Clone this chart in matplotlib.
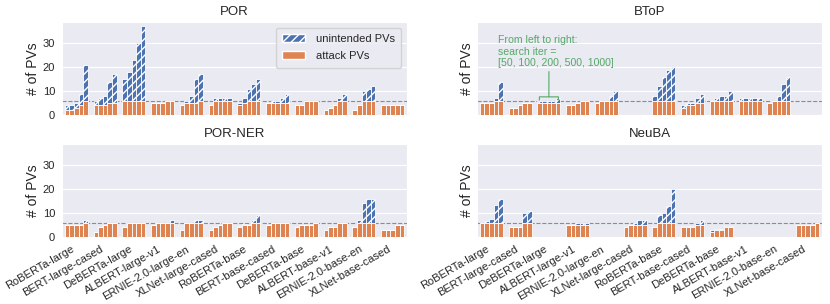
import numpy as np
import matplotlib

matplotlib.use("Agg")
import matplotlib.pyplot as plt
from matplotlib.patches import Patch
import seaborn as sns

MODELS = [
    "RoBERTa-large", "BERT-large-cased", "DeBERTa-large", "ALBERT-large-v1",
    "ERNIE-2.0-large-en", "XLNet-large-cased", "RoBERTa-base", "BERT-base-cased",
    "DeBERTa-base", "ALBERT-base-v1", "ERNIE-2.0-base-en", "XLNet-base-cased",
]
SEARCH_ITERS = [50, 100, 200, 500, 1000]

# attack PVs and total PVs (attack + unintended) per model, one value per search iter
POR_ATTACK = [
    [2, 2, 3, 4, 6], [4, 4, 4, 5, 5], [6, 6, 6, 6, 6], [5, 5, 5, 6, 6],
    [4, 5, 5, 5, 6], [4, 6, 6, 6, 6], [4, 5, 6, 6, 6], [5, 5, 5, 5, 5],
    [4, 4, 6, 6, 6], [2, 3, 4, 6, 6], [2, 4, 6, 6, 6], [4, 4, 4, 4, 4],
]
POR_TOTAL = [
    [4, 4, 5, 9, 21], [6, 7, 8, 14, 17], [15, 18, 23, 30, 37], [5, 5, 5, 6, 6],
    [4, 6, 8, 15, 17], [4, 7, 7, 7, 7], [5, 7, 11, 13, 15], [5, 6, 6, 7, 9],
    [4, 4, 6, 6, 6], [2, 3, 4, 7, 9], [2, 4, 10, 11, 12], [4, 4, 4, 4, 4],
]

BTOP_ATTACK = [
    [5, 5, 5, 6, 6], [3, 3, 4, 5, 5], [5, 5, 5, 5, 5], [4, 4, 5, 6, 6],
    [5, 6, 6, 6, 6], None, [6, 6, 6, 6, 6], [3, 4, 4, 5, 5],
    [6, 6, 6, 6, 6], [6, 6, 6, 6, 6], [5, 6, 6, 6, 6], None,
]
BTOP_TOTAL = [
    [5, 5, 5, 7, 14], [3, 3, 4, 5, 5], [6, 6, 6, 6, 7], [4, 4, 5, 6, 6],
    [5, 6, 6, 8, 10], None, [8, 12, 16, 19, 20], [4, 5, 5, 7, 9],
    [6, 7, 8, 8, 10], [7, 7, 7, 7, 7], [5, 6, 8, 13, 16], None,
]

PORNER_ATTACK = [
    [5, 5, 5, 5, 6], [2, 4, 5, 6, 6], [4, 6, 6, 6, 6], [5, 6, 6, 6, 6],
    [3, 6, 6, 6, 6], [3, 4, 5, 6, 6], [4, 5, 5, 6, 6], [5, 6, 6, 6, 6],
    [4, 5, 5, 5, 6], [3, 4, 4, 6, 6], [4, 6, 6, 6, 6], [3, 3, 3, 5, 5],
]
PORNER_TOTAL = [
    [5, 5, 5, 5, 7], [2, 4, 5, 6, 6], [4, 6, 6, 6, 6], [5, 6, 6, 6, 7],
    [3, 6, 6, 7, 7], [3, 4, 5, 6, 6], [4.5, 5.5, 5, 7, 9], [5, 6, 6, 6, 6],
    [4, 5, 5, 5, 6], [3, 4, 4, 6, 6], [4, 7, 14, 16, 16], [3, 3, 3, 5, 5],
]

NEUBA_ATTACK = [
    [6, 6, 6, 6, 6], [4, 4, 4, 6, 6], None, [5, 5, 5, 5, 5],
    None, [4, 5, 5, 5, 5], [4, 6, 6, 6, 6], [4, 4, 4, 5, 5],
    [2, 3, 3, 4, 4], None, None, [5, 5, 5, 5, 6],
]
NEUBA_TOTAL = [
    [6, 6.5, 7.5, 13.5, 16], [4, 4, 4, 10, 11], None, [5, 5, 6, 6, 6],
    None, [4, 5, 6, 7, 7], [4, 9, 10, 13, 20], [4.5, 4.5, 4.5, 6, 7],
    [3, 3.5, 3.5, 4.5, 4.5], None, None, [5, 5, 5, 5, 6],
]

TARGET_PVS = 6

BLUE = "#4c72b0"
ORANGE = "#dd8452"
GREEN = "#55a868"

sns.set_style("darkgrid")
plt.rcParams["font.family"] = ["Liberation Sans", "DejaVu Sans"]
plt.rcParams["hatch.linewidth"] = 1.0


def draw_panel(ax, title, attack, total):
    n_it = len(SEARCH_ITERS)
    w = 0.8 / n_it
    offsets = (np.arange(n_it) - (n_it - 1) / 2) * w
    for g, (a, t) in enumerate(zip(attack, total)):
        if a is None:
            continue
        a = np.asarray(a, dtype=float)
        t = np.asarray(t, dtype=float)
        x = g + offsets
        ax.bar(x, a, w, color=ORANGE, edgecolor="white", linewidth=0.6, zorder=3)
        ax.bar(x, t - a, w, bottom=a, color=BLUE, edgecolor="white",
               linewidth=0.6, hatch="////", zorder=3)
    ax.axhline(TARGET_PVS, color="#8c8c8c", ls="--", lw=0.8, zorder=2)
    ax.set_title(title, fontsize=9.5, pad=5)
    ax.set_ylabel("# of PVs", fontsize=10, labelpad=2)
    ax.grid(axis="x", visible=False)
    ax.set_xlim(-0.5, len(MODELS) - 0.5)
    ax.set_xticks(np.arange(len(MODELS)))
    ax.tick_params(labelsize=8, pad=1.5)


fig, axes = plt.subplots(2, 2, figsize=(8.3, 3.04), dpi=100, sharex=True, sharey=True)
fig.subplots_adjust(left=62 / 830, right=822 / 830, top=1 - 22 / 304,
                    bottom=1 - 237 / 304, wspace=0.203, hspace=0.31)

draw_panel(axes[0, 0], "POR", POR_ATTACK, POR_TOTAL)
draw_panel(axes[0, 1], "BToP", BTOP_ATTACK, BTOP_TOTAL)
draw_panel(axes[1, 0], "POR-NER", PORNER_ATTACK, PORNER_TOTAL)
draw_panel(axes[1, 1], "NeuBA", NEUBA_ATTACK, NEUBA_TOTAL)

axes[0, 0].set_yticks([0, 10, 20, 30])

for ax in axes[1]:
    ax.set_xticklabels(MODELS, rotation=30, ha="right", fontsize=8)

# legend
handles = [
    Patch(facecolor=BLUE, edgecolor="white", hatch="////", label="unintended PVs"),
    Patch(facecolor=ORANGE, edgecolor="white", label="attack PVs"),
]
axes[0, 0].legend(handles=handles, loc="upper right", fontsize=8,
                  handlelength=2.0, handletextpad=1.0, borderpad=0.6,
                  labelspacing=0.6)

# search-iter annotation on BToP
axes[0, 1].annotate(
    "From left to right:\nsearch iter =\n[" + ", ".join(str(s) for s in SEARCH_ITERS) + "]",
    xy=(2, 7.6), xytext=(0.23, 19.5), ha="left", va="bottom",
    fontsize=7.6, color=GREEN, linespacing=1.2,
    arrowprops=dict(arrowstyle="-[, widthB=0.9, lengthB=0.3", color=GREEN, lw=0.8,
                    shrinkA=0, shrinkB=0, relpos=(0.44, 0.0)),
)

fig.savefig("out.png", dpi=100)
